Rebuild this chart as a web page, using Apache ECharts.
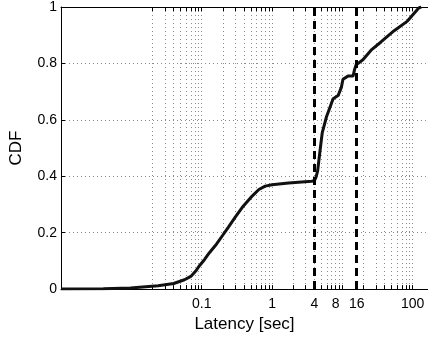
<!DOCTYPE html>
<html>
<head>
<meta charset="utf-8">
<script src="https://cdn.jsdelivr.net/npm/echarts@6/dist/echarts.min.js"></script>
<style>
  html, body { margin: 0; padding: 0; background: #fff; }
  #chart { width: 428px; height: 338px; }
</style>
</head>
<body>
<div id="chart"></div>
<script>
// CDF curve (latency in seconds, cumulative fraction)
const latency = [0.001, 0.004, 0.0097, 0.024, 0.04, 0.057, 0.07, 0.083, 0.093, 0.11,
  0.128, 0.163, 0.198, 0.24, 0.3, 0.378, 0.5, 0.65, 0.8, 1.0,
  1.72, 3.66, 3.99, 4.2, 4.44, 4.79, 5.18, 5.95, 7.39, 8.7,
  9.68, 10.2, 12.0, 14.2, 14.9, 15.7, 19.6, 25.6, 35.4, 54.5,
  84.2, 122.7, 132];
const cdf = [0, 0.001, 0.004, 0.012, 0.02, 0.033, 0.045, 0.065, 0.083, 0.105,
  0.128, 0.16, 0.19, 0.22, 0.255, 0.29, 0.325, 0.353, 0.365, 0.37,
  0.376, 0.382, 0.384, 0.395, 0.417, 0.486, 0.555, 0.611, 0.675, 0.686,
  0.715, 0.744, 0.755, 0.755, 0.778, 0.795, 0.813, 0.847, 0.876, 0.916,
  0.95, 0.997, 1.0];

// dashed reference lines
const thresholds = [4, 16];

// x tick labels and grid/tick positions
const xLabels = [0.1, 1, 4, 8, 16, 100];
const xGrid = [0.02, 0.03, 0.04, 0.05, 0.06, 0.07, 0.08, 0.09, 0.1,
  0.2, 0.3, 0.4, 0.5, 0.6, 0.7, 0.8, 0.9, 1,
  2, 3, 4, 5, 6, 7, 8, 9, 10,
  20, 30, 40, 50, 60, 70, 80, 90, 100];

function dibujar() {
  const chart = echarts.init(document.getElementById("chart"));
  const font = "'Liberation Sans', Arial, sans-serif";
  const dotted = { color: "#8c8c8c", width: 1, type: [1, 3] };

  const option = {
    animation: false,
    grid: { left: 59, right: 0, top: 4, bottom: 44 },
    xAxis: [{
      type: "log",
      logBase: 10,
      min: 0.001,
      max: 165,
      name: "Latency [sec]",
      nameLocation: "middle",
      nameGap: 23,
      nameTextStyle: { fontFamily: font, fontSize: 17, color: "#000" },
      axisLine: { lineStyle: { color: "#000", width: 1 } },
      axisTick: { inside: true, length: 4, customValues: xGrid, lineStyle: { color: "#000" } },
      axisLabel: {
        customValues: xLabels,
        fontFamily: font, fontSize: 14, color: "#000", margin: 8,
        formatter: v => String(+v.toPrecision(3))
      },
      splitLine: { show: true, lineStyle: dotted },
      minorTick: { show: false },
      minorSplitLine: { show: false }
    }, {
      type: "log",
      logBase: 10,
      min: 0.001,
      max: 165,
      position: "top",
      axisLine: { show: true, lineStyle: { color: "#000", width: 1 } },
      axisTick: { inside: true, length: 4, customValues: xGrid, lineStyle: { color: "#000" } },
      axisLabel: { show: false },
      splitLine: { show: false }
    }],
    yAxis: {
      type: "value",
      min: 0,
      max: 1,
      interval: 0.2,
      name: "CDF",
      nameLocation: "middle",
      nameGap: 36,
      nameTextStyle: { fontFamily: font, fontSize: 17, color: "#000" },
      axisLine: { show: true, lineStyle: { color: "#000", width: 1 } },
      axisTick: { show: true, inside: true, length: 4, lineStyle: { color: "#000" } },
      axisLabel: {
        fontFamily: font, fontSize: 14, color: "#000", margin: 4,
        formatter: v => String(+v.toFixed(1))
      },
      splitLine: { show: true, lineStyle: dotted }
    },
    series: [{
      type: "line",
      data: latency.map((x, i) => [x, cdf[i]]),
      showSymbol: false,
      symbol: "none",
      lineStyle: { color: "#111", width: 3 },
      markLine: {
        silent: true,
        symbol: "none",
        label: { show: false },
        lineStyle: { color: "#000", width: 3, type: [8, 5] },
        data: thresholds.map(t => ({ xAxis: t }))
      }
    }]
  };

  chart.setOption(option);
  window.addEventListener("resize", () => chart.resize());
}

document.addEventListener("DOMContentLoaded", dibujar);
</script>
</body>
</html>
